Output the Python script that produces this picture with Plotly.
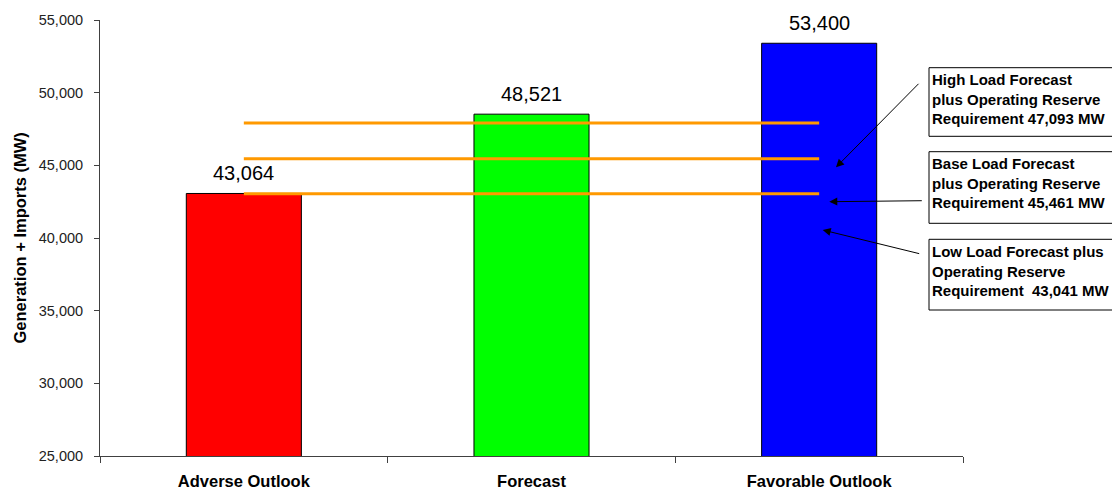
import plotly.graph_objects as go

categories = ["Adverse Outlook", "Forecast", "Favorable Outlook"]
values = [43064, 48521, 53400]
bar_colors = ["#FF0000", "#00FF00", "#0000FF"]
value_labels = ["43,064", "48,521", "53,400"]

# reserve requirement lines (as drawn)
line_values = [47920, 45461, 43041]
line_span = ["Adverse Outlook", "Favorable Outlook"]

box_texts = [
    "High Load Forecast<br>plus Operating Reserve<br>Requirement 47,093 MW",
    "Base Load Forecast<br>plus Operating Reserve<br>Requirement 45,461 MW",
    "Low Load Forecast plus<br>Operating Reserve<br>Requirement  43,041 MW",
]

y_ticks = [25000, 30000, 35000, 40000, 45000, 50000, 55000]
y_ticktext = ["25,000", "30,000", "35,000", "40,000", "45,000", "50,000", "55,000"]

W, H = 1112, 489
L, R, T, B = 100, 963, 20, 456
FONT = "Arial, Liberation Sans, sans-serif"


def px(x):
    return (x - L) / (R - L)


def py(y):
    return (B - y) / (B - T)


fig = go.Figure()

fig.add_trace(go.Bar(
    x=categories, y=values, width=0.4,
    marker=dict(color=bar_colors, line=dict(color="black", width=1)),
    showlegend=False, cliponaxis=False,
))

for v in line_values:
    fig.add_trace(go.Scatter(
        x=line_span, y=[v, v], mode="lines",
        line=dict(color="#FF9900", width=3), showlegend=False,
        hoverinfo="skip",
    ))

shapes = []
annotations = []

for c, v, t in zip(categories, values, value_labels):
    annotations.append(dict(x=c, y=v, xref="x", yref="y", text=t,
                            showarrow=False, yanchor="bottom", yshift=7,
                            font=dict(size=20, color="black", family=FONT)))

boxes_px = [(67.7, 136.3), (151.7, 223.3), (239.3, 310.0)]
for (top, bot), txt in zip(boxes_px, box_texts):
    shapes.append(dict(type="rect", xref="paper", yref="paper",
                       x0=px(929), x1=px(1130), y0=py(bot), y1=py(top),
                       line=dict(color="black", width=1), fillcolor="white",
                       layer="below"))
    bold = "<b>" + txt.replace("<br>", "</b><br><b>") + "</b>"
    annotations.append(dict(xref="paper", yref="paper", x=px(930), y=py(top + 1.5),
                            xanchor="left", yanchor="top", align="left",
                            text=bold, showarrow=False,
                            font=dict(size=15, color="black", family=FONT)))

arrows_px = [((836, 167.3), (920, 82.3)),
             ((829.3, 201.7), (923.3, 200.7)),
             ((822.7, 230.0), (920.7, 254.0))]
for (hx, hy), (tx, ty) in arrows_px:
    annotations.append(dict(xref="paper", yref="paper", x=px(hx), y=py(hy),
                            ax=tx - hx, ay=ty - hy, text="", showarrow=True,
                            arrowhead=2, arrowsize=1.6, arrowwidth=1,
                            arrowcolor="black"))

annotations.append(dict(xref="paper", yref="paper", x=px(19.5), y=py(238),
                        text="<b>Generation + Imports (MW)</b>", textangle=-90,
                        showarrow=False, xanchor="center", yanchor="middle",
                        font=dict(size=16.5, color="black", family=FONT)))

fig.update_layout(
    width=W, height=H,
    margin=dict(l=L, r=W - R, t=T, b=H - B, pad=0, autoexpand=False),
    plot_bgcolor="white", paper_bgcolor="white",
    font=dict(family=FONT, color="black"),
    shapes=shapes, annotations=annotations,
    xaxis=dict(
        type="category", categoryorder="array", categoryarray=categories,
        showline=True, linecolor="#404040", linewidth=1,
        ticks="outside", ticklen=6, tickcolor="#404040", tickson="boundaries",
        tickfont=dict(size=16.5, color="black", family=FONT),
        tickvals=categories, ticktext=["<b>" + c + "</b>" for c in categories],
        showgrid=False, zeroline=False, ticklabelstandoff=10,
        range=[-0.5, 2.5], automargin=False,
    ),
    yaxis=dict(
        range=[25000, 55000], tickvals=y_ticks, ticktext=y_ticktext,
        showline=True, linecolor="#404040", linewidth=1,
        ticks="outside", ticklen=5, tickcolor="#404040",
        tickfont=dict(size=14.5, color="#222222", family=FONT),
        showgrid=False, zeroline=False, ticklabelstandoff=8, automargin=False,
    ),
)

fig.write_html("out.html")
